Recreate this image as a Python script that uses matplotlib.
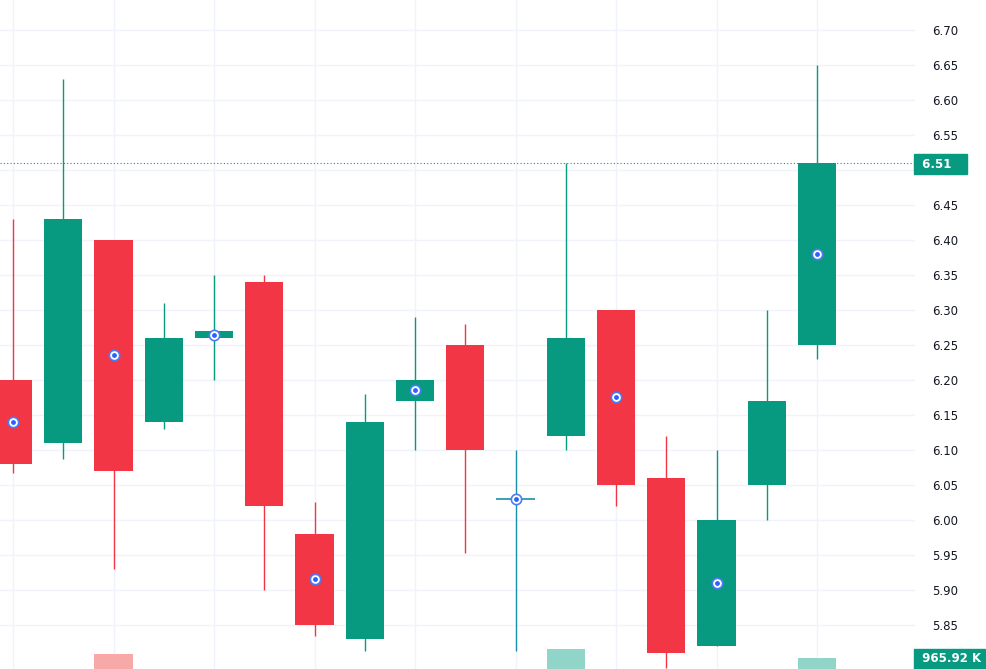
import matplotlib.pyplot as plt

# candle data
opens  = [6.20, 6.11, 6.40, 6.14, 6.26, 6.34, 5.98, 5.83, 6.17, 6.25, 6.03, 6.12, 6.30, 6.06, 5.82, 6.05, 6.25]
closes = [6.08, 6.43, 6.07, 6.26, 6.27, 6.02, 5.85, 6.14, 6.20, 6.10, 6.03, 6.26, 6.05, 5.81, 6.00, 6.17, 6.51]
highs  = [6.43, 6.63, 6.40, 6.31, 6.35, 6.35, 6.025, 6.18, 6.29, 6.28, 6.10, 6.51, 6.30, 6.12, 6.10, 6.30, 6.65]
lows   = [6.067, 6.087, 5.93, 6.13, 6.20, 5.90, 5.834, 5.813, 6.10, 5.953, 5.813, 6.10, 6.02, 5.789, 5.82, 6.00, 6.23]
marker_idx = [0, 2, 4, 6, 8, 10, 12, 14, 16]
marker_val = [6.14, 6.235, 6.265, 5.915, 6.185, 6.03, 6.175, 5.91, 6.38]
volumes = [50, 50, 222, 50, 50, 50, 50, 50, 50, 50, 50, 230, 50, 50, 50, 50, 217]
last_price = 6.51
last_volume = '965.92 K'

GREEN = '#089981'
RED = '#F23645'

fig = plt.figure(figsize=(9.87, 6.69), dpi=100)
ax = fig.add_axes([0, 0, 915 / 987, 1])
ax.set_xlim(-0.259, 17.95)
ax.set_ylim(5.7871, 6.7429)

# volume overlay
vax = ax.twinx()
vax.set_ylim(200, 1200)
vax.axis('off')

for i in range(len(opens)):
    o, c = opens[i], closes[i]
    col = GREEN if c >= o else RED
    if i == 10:
        col = '#1b8fa8'
    ax.vlines(i, lows[i], highs[i], color=col, lw=1, zorder=2)
    h = abs(c - o)
    if h < 0.005:
        ax.hlines(o, i - 0.38, i + 0.38, color=col, lw=1.2, zorder=3)
    else:
        ax.bar(i, h, bottom=min(o, c), width=0.76, color=col, zorder=3)
    vcol = '#91d5c9' if c >= o else '#f7a9a7'
    vax.bar(i, volumes[i], width=0.76, color=vcol)

ax.scatter(marker_idx, marker_val, s=55, facecolor='white', edgecolor='#4a7cf5', lw=1.2, zorder=5)
ax.scatter(marker_idx, marker_val, s=6, color='#2962ff', zorder=6)

ax.set_yticks([5.85 + 0.05 * k for k in range(18)])
ax.set_xticks([0, 2, 4, 6, 8, 10, 12, 14, 16])
ax.grid(color='#f0f3fa', lw=1)
ax.set_axisbelow(True)
ax.tick_params(axis='x', length=0, labelbottom=False)
ax.tick_params(axis='y', length=0, labelleft=False, labelright=True, labelsize=8.5, labelcolor='#131722', pad=12)
ax.yaxis.set_major_formatter(plt.FuncFormatter(lambda v, p: '%.2f' % v))
for s in ax.spines.values():
    s.set_visible(False)

ax.axhline(last_price, color=GREEN, lw=0.8, ls=(0, (1, 2)), zorder=1)
fig.text(918 / 987, 1 - 164 / 669, ' %.2f   ' % last_price, color='white', fontsize=8.5, fontweight='bold',
         va='center', ha='left', zorder=10, bbox=dict(boxstyle='square,pad=0.3', fc=GREEN, ec=GREEN))
fig.text(918 / 987, 1 - 659 / 669, ' ' + last_volume, color='white', fontsize=8.5, fontweight='bold',
         va='center', ha='left', zorder=10, bbox=dict(boxstyle='square,pad=0.3', fc=GREEN, ec=GREEN))

fig.savefig('out.png', dpi=100)
